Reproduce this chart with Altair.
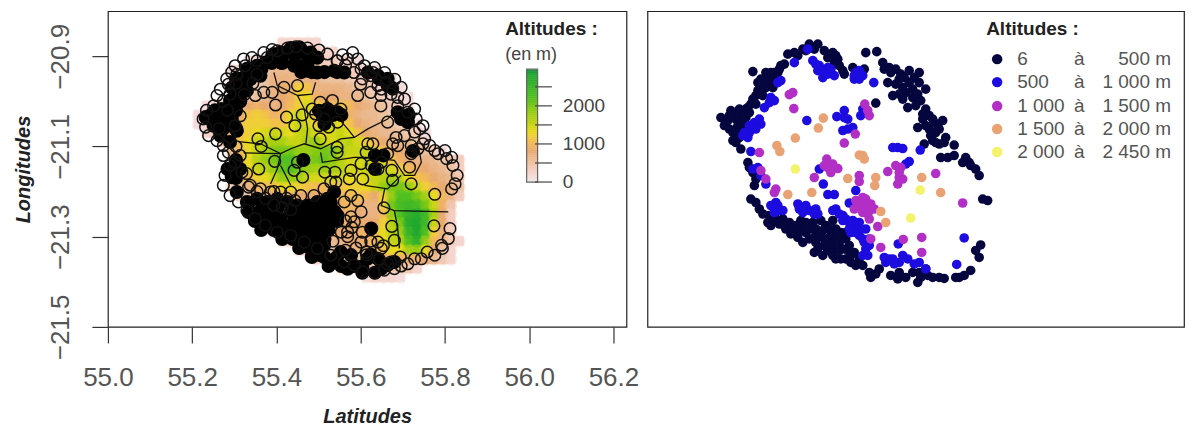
import altair as alt
import pandas as pd

# ---------- left map: altitude grid (hundreds of metres) ----------
GRID_LON0 = 55.20
GRID_LAT0 = -20.86
GRID_STEP = 0.02
MAP_LON_SHIFT = 0.004
ROW_FIRST_COL = [10, 9, 6, 4, 4, 4, 4, 1, 0, 0, 1, 3, 4, 4, 4, 4, 4, 5, 6, 6, 7, 9, 10, 12, 14, 17, 20]
ROW_VALUES = [
    [2, 2, 2, 2, 2],
    [2, 3, 3, 3, 3, 3, 2, 2],
    [1, 2, 3, 4, 5, 5, 5, 4, 4, 3, 3, 2, 2, 1],
    [1, 2, 2, 3, 5, 6, 6, 6, 6, 5, 5, 4, 4, 4, 3, 3, 2, 1],
    [1, 2, 3, 4, 5, 7, 7, 7, 7, 7, 7, 5, 5, 5, 4, 3, 3, 2, 2, 1],
    [1, 2, 3, 4, 5, 7, 8, 9, 12, 11, 7, 7, 7, 7, 6, 5, 4, 3, 2, 2, 1],
    [2, 3, 4, 5, 6, 7, 8, 9, 12, 13, 9, 8, 8, 7, 7, 6, 5, 4, 3, 2, 2, 1],
    [1, 2, 3, 4, 6, 8, 9, 8, 7, 8, 10, 12, 14, 12, 10, 10, 11, 10, 8, 7, 6, 5, 4, 2, 1],
    [1, 2, 3, 4, 5, 8, 11, 12, 11, 9, 10, 13, 15, 13, 11, 11, 13, 14, 9, 7, 6, 6, 5, 4, 2, 1],
    [1, 2, 3, 4, 7, 10, 12, 12, 12, 11, 11, 13, 15, 14, 12, 12, 14, 13, 11, 8, 7, 6, 6, 5, 3, 2, 1],
    [2, 3, 5, 8, 11, 12, 13, 14, 15, 14, 13, 15, 16, 14, 13, 14, 15, 13, 11, 8, 7, 6, 6, 5, 4, 3, 1],
    [4, 7, 11, 13, 15, 16, 17, 17, 15, 15, 17, 18, 15, 14, 15, 16, 14, 12, 10, 8, 7, 6, 6, 4, 2],
    [6, 10, 13, 15, 17, 19, 20, 20, 18, 18, 19, 20, 20, 17, 15, 15, 15, 13, 11, 9, 8, 7, 6, 5, 3, 1],
    [5, 9, 13, 16, 18, 20, 22, 22, 20, 19, 20, 21, 19, 16, 14, 14, 15, 14, 13, 11, 9, 8, 7, 7, 6, 5, 4, 3],
    [5, 9, 13, 15, 16, 18, 21, 22, 20, 18, 17, 18, 17, 16, 14, 14, 15, 15, 15, 14, 12, 10, 9, 8, 7, 6, 5, 3],
    [4, 7, 10, 12, 13, 15, 18, 18, 17, 15, 14, 14, 14, 14, 13, 13, 14, 15, 16, 17, 16, 13, 11, 10, 8, 7, 6, 4],
    [3, 5, 7, 9, 10, 11, 13, 13, 12, 11, 10, 10, 11, 11, 12, 12, 13, 15, 18, 20, 20, 18, 15, 12, 10, 8, 7, 5],
    [3, 5, 6, 7, 8, 9, 9, 8, 8, 8, 9, 9, 10, 10, 11, 10, 8, 12, 18, 22, 22, 20, 17, 13, 10, 7, 3],
    [3, 4, 5, 6, 6, 7, 7, 8, 8, 8, 9, 9, 10, 9, 7, 7, 12, 20, 23, 24, 23, 20, 15, 9, 4],
    [2, 3, 4, 5, 5, 6, 6, 7, 7, 8, 8, 9, 9, 8, 7, 7, 10, 18, 22, 26, 27, 24, 17, 8, 3],
    [2, 3, 4, 5, 5, 6, 6, 7, 7, 8, 8, 9, 8, 8, 8, 12, 16, 20, 27, 28, 24, 15, 8, 3],
    [2, 3, 4, 5, 6, 6, 7, 7, 8, 8, 9, 9, 10, 13, 16, 18, 25, 28, 22, 12, 7, 3],
    [2, 3, 4, 5, 5, 6, 6, 7, 8, 8, 9, 10, 13, 15, 16, 22, 26, 18, 10, 7, 4, 2],
    [2, 3, 4, 4, 5, 6, 7, 7, 8, 9, 11, 13, 13, 17, 18, 13, 8, 5, 2],
    [2, 3, 4, 4, 5, 5, 6, 7, 8, 9, 9, 9, 9, 8, 6, 4, 2],
    [2, 3, 3, 4, 4, 5, 5, 5, 4, 2],
    [1, 2, 2, 2, 1],
]

RIVERS = [
    [(55.318, -21.114), (55.406, -21.116), (55.43, -21.105), (55.462, -21.094), (55.501, -21.105),
     (55.549, -21.083), (55.581, -21.08), (55.613, -21.061), (55.66, -21.039), (55.676, -21.024)],
    [(55.306, -21.089), (55.358, -21.094), (55.406, -21.116)],
    [(55.39, -20.936), (55.398, -20.965), (55.446, -20.987), (55.462, -21.017), (55.47, -21.061), (55.466, -21.094)],
    [(55.406, -21.116), (55.398, -21.15), (55.382, -21.183)],
    [(55.406, -21.142), (55.43, -21.186)],
    [(55.501, -21.113), (55.505, -21.135), (55.581, -21.124), (55.613, -21.124), (55.676, -21.131),
     (55.7, -21.164), (55.724, -21.164), (55.74, -21.135), (55.736, -21.113)],
    [(55.605, -21.186), (55.66, -21.194), (55.692, -21.164)],
    [(55.653, -21.194), (55.645, -21.231), (55.676, -21.242), (55.804, -21.245)],
    [(55.676, -21.242), (55.684, -21.282), (55.688, -21.326)],
    [(55.489, -20.958), (55.481, -20.984), (55.446, -20.987)],
    [(55.517, -20.998), (55.541, -21.035), (55.565, -21.061), (55.581, -21.08)],
]

DENSE_STATIONS = [
    (55.33, -21.225), (55.525, -21.225), (55.50, -21.225),
    (55.33, -21.245), (55.355, -21.245), (55.46, -21.245), (55.485, -21.245), (55.51, -21.245), (55.535, -21.245),
    (55.345, -21.265), (55.37, -21.265), (55.395, -21.265), (55.44, -21.265), (55.465, -21.265), (55.49, -21.265), (55.515, -21.265), (55.54, -21.265),
    (55.36, -21.285), (55.39, -21.285), (55.42, -21.285), (55.445, -21.285), (55.47, -21.285), (55.495, -21.285), (55.52, -21.285),
    (55.41, -21.305), (55.435, -21.305), (55.46, -21.305), (55.485, -21.305), (55.51, -21.305),
    (55.45, -21.325), (55.475, -21.325), (55.50, -21.325),
    (55.48, -21.345), (55.51, -21.345), (55.54, -21.345),
    (55.52, -21.365), (55.55, -21.365), (55.58, -21.365), (55.60, -21.38), (55.63, -21.38),
    (55.43, -20.882), (55.45, -20.88), (55.39, -20.895), (55.415, -20.895), (55.44, -20.895), (55.465, -20.895),
    (55.385, -20.915), (55.41, -20.915), (55.44, -20.915), (55.47, -20.915),
    (55.455, -20.935), (55.48, -20.935), (55.51, -20.935), (55.54, -20.935),
    (55.33, -20.93), (55.36, -20.93), (55.30, -20.95), (55.325, -20.95), (55.29, -20.97), (55.32, -20.97),
    (55.25, -21.02), (55.275, -21.02), (55.30, -21.02), (55.24, -21.04), (55.265, -21.04), (55.29, -21.04),
    (55.29, -21.0), (55.31, -21.0), (55.27, -21.06), (55.30, -21.06),
    (55.30, -21.13), (55.28, -21.15), (55.31, -21.15), (55.30, -21.17),
    (55.505, -21.03), (55.53, -21.03), (55.55, -21.03), (55.51, -21.05),
    (55.69, -21.03), (55.71, -21.03), (55.46, -21.13), (55.63, -21.12), (55.65, -21.12), (55.63, -21.15),
    (55.64, -20.95), (55.66, -20.95), (55.67, -20.97), (55.62, -21.34), (55.60, -21.37), (55.72, -21.11),
    (55.326, -20.928), (55.35, -20.921), (55.37, -20.914), (55.31, -20.95), (55.334, -20.951), (55.358, -20.943),
    (55.302, -20.973), (55.326, -20.976), (55.286, -20.998), (55.31, -20.998), (55.266, -21.017), (55.243, -21.028),
    (55.228, -21.035), (55.247, -21.054), (55.27, -21.054), (55.263, -21.076), (55.286, -21.09), (55.302, -21.065),
    (55.386, -20.899), (55.406, -20.892), (55.43, -20.888), (55.454, -20.884), (55.477, -20.892), (55.493, -20.903),
    (55.406, -20.914), (55.438, -20.921), (55.47, -20.932), (55.493, -20.936), (55.533, -20.932), (55.557, -20.936),
    (55.692, -21.039), (55.708, -21.046), (55.684, -21.024),
    (55.326, -21.223), (55.35, -21.216), (55.374, -21.223), (55.398, -21.216), (55.422, -21.223), (55.446, -21.231),
    (55.47, -21.231), (55.493, -21.223), (55.517, -21.216), (55.533, -21.201), (55.342, -21.253), (55.374, -21.253),
    (55.406, -21.26), (55.438, -21.253), (55.406, -21.282), (55.438, -21.297), (55.47, -21.319), (55.501, -21.341),
    (55.533, -21.356), (55.565, -21.371), (55.597, -21.367), (55.637, -21.349), (55.66, -21.363), (55.621, -21.282),
    (55.541, -21.253),
    (55.366, -21.242), (55.398, -21.238), (55.43, -21.245), (55.382, -21.275), (55.43, -21.275), (55.454, -21.275),
    (55.454, -21.312), (55.485, -21.304), (55.509, -21.319), (55.549, -21.334), (55.573, -21.341), (55.612, -21.349),
    (55.645, -21.371), (55.676, -21.356), (55.302, -21.201), (55.29, -21.168),
    (55.613, -20.936), (55.637, -20.943), (55.66, -20.965), (55.517, -21.017), (55.541, -21.024), (55.497, -21.021),
]

RING_STATIONS = [
    (55.42, -21.035), (55.394, -21.072), (55.352, -21.083), (55.36, -21.10), (55.392, -21.133), (55.44, -21.054),
    (55.457, -21.03), (55.394, -21.008), (55.50, -21.083), (55.54, -21.102), (55.54, -21.113), (55.613, -21.094),
    (55.625, -21.094), (55.672, -21.094), (55.67, -21.153), (55.672, -21.175), (55.716, -21.183), (55.712, -21.146),
    (55.772, -21.206), (55.812, -21.194), (55.77, -21.276), (55.804, -21.304), (55.754, -21.334), (55.676, -21.308),
    (55.67, -21.277), (55.651, -21.236), (55.597, -21.138), (55.573, -21.153), (55.511, -21.157), (55.458, -21.168),
    (55.438, -21.153), (55.446, -21.135), (55.535, -21.157), (55.537, -21.179), (55.569, -21.172), (55.601, -21.172),
    (55.589, -21.22), (55.573, -21.256), (55.597, -21.245), (55.553, -20.897), (55.50, -21.002), (55.489, -21.028),
    (55.497, -21.054), (55.52, -21.057), (55.644, -21.01), (55.66, -21.046), (55.68, -21.08), (55.716, -21.116),
    (55.732, -21.105), (55.354, -21.15),
    (55.222, -21.039), (55.23, -21.02), (55.228, -21.057), (55.235, -21.076), (55.255, -21.087), (55.27, -21.098),
    (55.247, -21.01), (55.27, -21.0), (55.286, -20.984), (55.282, -20.962), (55.29, -20.935), (55.302, -20.94),
    (55.322, -20.921), (55.35, -20.91), (55.374, -20.903), (55.398, -20.888), (55.422, -20.882), (55.442, -20.879),
    (55.47, -20.882), (55.497, -20.886), (55.517, -20.895), (55.577, -20.892), (55.589, -20.906), (55.605, -20.921),
    (55.629, -20.925), (55.653, -20.936), (55.677, -20.951), (55.692, -20.969), (55.684, -20.991), (55.708, -21.024),
    (55.728, -21.039), (55.736, -21.061), (55.748, -21.083), (55.76, -21.098), (55.78, -21.116), (55.80, -21.127),
    (55.815, -21.142), (55.825, -21.164), (55.82, -21.183),
    (55.79, -21.326), (55.772, -21.341), (55.724, -21.349), (55.708, -21.36), (55.676, -21.371), (55.652, -21.374),
    (55.629, -21.38), (55.601, -21.378), (55.581, -21.363), (55.557, -21.356), (55.525, -21.341), (55.493, -21.326),
    (55.462, -21.312), (55.43, -21.297), (55.398, -21.29), (55.37, -21.275), (55.346, -21.26), (55.326, -21.242),
    (55.306, -21.223), (55.286, -21.209), (55.27, -21.186), (55.274, -21.164), (55.286, -21.142), (55.27, -21.12),
    (55.58, -20.936), (55.60, -20.95), (55.62, -20.943), (55.637, -20.965), (55.656, -20.958), (55.668, -20.984),
    (55.644, -20.987), (55.62, -20.98), (55.596, -20.962), (55.56, -20.92), (55.54, -20.91), (55.30, -20.96),
    (55.32, -20.985), (55.34, -20.96), (55.35, -20.94), (55.28, -21.02), (55.26, -21.06), (55.285, -21.08),
    (55.30, -21.10), (55.31, -21.12), (55.325, -21.16), (55.33, -21.19), (55.35, -21.20), (55.37, -21.215),
    (55.39, -21.23), (55.41, -21.235), (55.43, -21.24), (55.44, -21.22), (55.42, -21.215), (55.39, -21.20),
    (55.565, -21.30), (55.585, -21.325), (55.61, -21.34), (55.64, -21.35), (55.66, -21.36), (55.69, -21.345),
    (55.575, -21.28), (55.60, -21.29), (55.62, -21.31), (55.65, -21.32), (55.56, -21.33), (55.53, -21.31),
    (55.55, -21.29), (55.56, -21.265),
    (55.255, -20.987), (55.263, -20.973), (55.278, -20.95), (55.298, -20.921), (55.318, -20.906), (55.338, -20.903),
    (55.366, -20.892), (55.386, -20.885), (55.541, -20.91), (55.565, -20.906), (55.597, -20.928), (55.625, -20.936),
    (55.645, -20.973), (55.672, -20.973), (55.684, -21.01), (55.70, -20.995), (55.724, -21.017), (55.744, -21.054),
    (55.724, -21.068), (55.70, -21.076), (55.744, -21.094), (55.772, -21.109), (55.796, -21.109), (55.812, -21.124),
    (55.716, -21.098), (55.684, -21.098), (55.66, -21.116), (55.645, -21.135), (55.621, -21.142), (55.609, -21.113),
    (55.637, -21.15), (55.589, -20.987), (55.549, -21.017), (55.529, -20.998), (55.509, -21.039), (55.541, -21.046),
    (55.481, -21.017), (55.446, -20.965), (55.414, -20.969), (55.386, -20.98), (55.366, -20.98), (55.346, -20.987),
    (55.31, -21.032), (55.298, -21.054), (55.282, -21.113), (55.298, -21.135), (55.314, -21.157), (55.334, -21.186),
    (55.358, -21.194), (55.382, -21.201), (55.406, -21.201), (55.43, -21.201), (55.454, -21.209), (55.485, -21.209),
    (55.509, -21.194), (55.525, -21.179), (55.557, -21.223), (55.573, -21.209), (55.581, -21.267), (55.565, -21.29),
    (55.597, -21.312), (55.609, -21.334), (55.637, -21.312), (55.645, -21.326), (55.668, -21.356), (55.692, -21.365),
    (55.74, -21.349), (55.788, -21.319), (55.808, -21.282),
]

# ---------- right map: stations by altitude class ----------
CLASS_6_500 = [
    (55.227, -21.013), (55.234, -21.029), (55.247, -20.999), (55.257, -21.016), (55.264, -20.996), (55.271, -21.009),
    (55.251, -21.043), (55.267, -21.036), (55.257, -21.063), (55.267, -21.076), (55.284, -21.003), (55.297, -20.986),
    (55.277, -21.013), (55.274, -21.029), (55.311, -20.969), (55.301, -20.959), (55.317, -20.953), (55.307, -20.936),
    (55.327, -20.923), (55.344, -20.916), (55.324, -20.943), (55.291, -20.921), (55.337, -20.933), (55.354, -20.906),
    (55.361, -20.886), (55.381, -20.889), (55.391, -20.876), (55.404, -20.866), (55.421, -20.866), (55.434, -20.879),
    (55.451, -20.883), (55.461, -20.896), (55.471, -20.919), (55.454, -20.906), (55.441, -20.893), (55.517, -20.883),
    (55.539, -20.881), (55.491, -20.913), (55.514, -20.916), (55.551, -20.903), (55.564, -20.913), (55.577, -20.916),
    (55.587, -20.926), (55.604, -20.919), (55.624, -20.923), (55.584, -20.936), (55.561, -20.943), (55.577, -20.946),
    (55.604, -20.943), (55.624, -20.943), (55.637, -20.956), (55.597, -20.963), (55.571, -20.969), (55.591, -20.976),
    (55.611, -20.973), (55.601, -20.993), (55.627, -20.979), (55.637, -20.996), (55.644, -21.009), (55.631, -21.016),
    (55.654, -21.023), (55.671, -21.019), (55.661, -21.029), (55.621, -21.033), (55.644, -21.036), (55.657, -21.043),
    (55.677, -21.053), (55.651, -21.059), (55.634, -21.066), (55.664, -21.066), (55.694, -21.068), (55.667, -21.093),
    (55.681, -21.093), (55.694, -21.089), (55.717, -21.093), (55.711, -21.103), (55.727, -21.109), (55.737, -21.116),
    (55.744, -21.129), (55.537, -20.984), (55.751, -21.176), (55.761, -21.179), (55.747, -21.268), (55.737, -21.279),
    (55.744, -21.293), (55.727, -21.319), (55.714, -21.329), (55.697, -21.333), (55.674, -21.335), (55.651, -21.333),
    (55.637, -21.316), (55.621, -21.343), (55.611, -21.323), (55.581, -21.336), (55.567, -21.329), (55.537, -21.326),
    (55.524, -21.323), (55.281, -21.103), (55.291, -21.123), (55.294, -21.149), (55.287, -21.176), (55.304, -21.196),
    (55.321, -21.223), (55.334, -21.209), (55.344, -21.226), (55.357, -21.236), (55.371, -21.229), (55.381, -21.253),
    (55.397, -21.243), (55.414, -21.283), (55.417, -21.263), (55.434, -21.256), (55.451, -21.276), (55.464, -21.263),
    (55.477, -21.296), (55.497, -21.309), (55.471, -21.276), (55.437, -21.229), (55.457, -21.236), (55.397, -21.223),
    (55.377, -21.229), (55.417, -21.236), (55.477, -21.256), (55.494, -21.283), (55.451, -21.249), (55.431, -21.289),
    (55.457, -21.296), (55.481, -21.279), (55.511, -21.309), (55.351, -21.216), (55.391, -21.263),
    (55.241, -21.019), (55.254, -21.006), (55.244, -21.036), (55.261, -21.029), (55.277, -20.996), (55.287, -20.986),
    (55.264, -21.053), (55.251, -21.059), (55.297, -20.969), (55.311, -20.953), (55.327, -20.936), (55.341, -20.923),
    (55.317, -20.923), (55.301, -20.943), (55.331, -20.953), (55.347, -20.909), (55.374, -20.883), (55.397, -20.879),
    (55.414, -20.876), (55.447, -20.893), (55.464, -20.909), (55.457, -20.889), (55.474, -20.926),
    (55.567, -20.923), (55.554, -20.916), (55.594, -20.933), (55.614, -20.933), (55.591, -20.953), (55.611, -20.956),
    (55.621, -20.966), (55.584, -20.966), (55.617, -20.989), (55.631, -21.006), (55.651, -21.016), (55.637, -21.029),
    (55.664, -21.036), (55.647, -21.049), (55.674, -21.063), (55.657, -21.063), (55.724, -21.103),
    (55.297, -21.183), (55.311, -21.206), (55.324, -21.209), (55.337, -21.219), (55.364, -21.223), (55.387, -21.236),
    (55.407, -21.236), (55.404, -21.256), (55.424, -21.249), (55.444, -21.236), (55.447, -21.263), (55.421, -21.276),
    (55.441, -21.279), (55.464, -21.279), (55.467, -21.296), (55.487, -21.303), (55.477, -21.243), (55.467, -21.243),
    (55.427, -21.219), (55.451, -21.219), (55.411, -21.223), (55.387, -21.219), (55.354, -21.229), (55.374, -21.243),
    (55.527, -21.333), (55.544, -21.316), (55.584, -21.323), (55.597, -21.333), (55.627, -21.333), (55.641, -21.329),
    (55.624, -21.323), (55.664, -21.333), (55.704, -21.333), (55.297, -21.136), (55.284, -21.113),
    (55.327, -21.229), (55.367, -21.246), (55.384, -21.239), (55.414, -21.253), (55.431, -21.239), (55.444, -21.253),
    (55.434, -21.269), (55.454, -21.263), (55.464, -21.249), (55.484, -21.269), (55.487, -21.289), (55.451, -21.289),
    (55.504, -21.296), (55.397, -21.233), (55.257, -21.036), (55.244, -21.009), (55.271, -21.023), (55.261, -21.003),
    (55.317, -20.936), (55.334, -20.923), (55.307, -20.963), (55.291, -20.976), (55.281, -20.993),
]
CLASS_500_1000 = [
    (55.424, -20.909), (55.434, -20.919), (55.417, -20.906), (55.431, -20.933), (55.441, -20.913), (55.454, -20.929),
    (55.497, -20.923), (55.511, -20.929), (55.494, -20.936), (55.533, -20.943), (55.401, -20.876), (55.374, -20.903),
    (55.341, -20.943), (55.324, -20.983), (55.314, -20.993), (55.334, -20.979), (55.294, -21.023), (55.307, -21.026),
    (55.284, -21.043), (55.297, -21.036), (55.271, -21.049), (55.281, -21.053), (55.287, -21.081), (55.474, -20.999),
    (55.481, -21.016), (55.459, -21.011), (55.507, -21.009), (55.511, -20.996), (55.399, -21.019), (55.471, -21.039),
    (55.491, -21.033), (55.581, -21.073), (55.591, -21.075), (55.571, -21.073), (55.626, -21.078), (55.604, -21.101),
    (55.597, -21.106), (55.424, -21.116), (55.432, -21.146), (55.441, -21.167), (55.454, -21.167), (55.497, -21.159),
    (55.484, -21.184), (55.457, -21.196), (55.337, -21.183), (55.327, -21.189), (55.344, -21.199), (55.334, -21.203),
    (55.381, -21.186), (55.384, -21.196), (55.404, -21.199), (55.417, -21.196), (55.421, -21.206), (55.471, -21.209),
    (55.484, -21.223), (55.497, -21.229), (55.487, -21.243), (55.504, -21.249), (55.514, -21.263), (55.517, -21.276),
    (55.511, -21.289), (55.501, -21.236), (55.477, -21.216), (55.524, -21.269), (55.557, -21.303), (55.571, -21.296),
    (55.591, -21.289), (55.584, -21.303), (55.614, -21.306), (55.637, -21.316), (55.582, -21.266), (55.714, -21.254),
    (55.699, -21.307), (55.291, -21.116), (55.307, -21.129), (55.317, -21.146), (55.301, -21.113),
    (55.411, -20.899), (55.421, -20.919), (55.441, -20.926), (55.447, -20.916), (55.504, -20.919), (55.284, -21.029),
    (55.304, -21.016), (55.274, -21.043), (55.347, -20.939), (55.327, -20.973), (55.474, -21.013), (55.481, -21.036),
    (55.517, -21.236), (55.511, -21.256), (55.497, -21.243), (55.524, -21.256), (55.521, -21.289), (55.491, -21.219),
    (55.484, -21.236), (55.504, -21.223), (55.451, -21.199), (55.471, -21.219), (55.464, -21.206), (55.341, -21.189),
    (55.351, -21.199), (55.397, -21.189), (55.414, -21.206), (55.391, -21.203), (55.564, -21.296), (55.554, -21.293),
    (55.601, -21.296), (55.574, -21.306), (55.624, -21.303), (55.494, -20.929), (55.504, -20.936),
]
CLASS_1000_1500 = [
    (55.364, -20.967), (55.373, -20.995), (55.524, -21.009), (55.515, -20.986), (55.496, -21.046), (55.474, -21.064),
    (55.304, -21.083), (55.317, -21.136), (55.334, -21.163), (55.439, -21.096), (55.441, -21.113), (55.461, -21.115),
    (55.447, -21.123), (55.414, -21.133), (55.504, -21.129), (55.504, -21.141), (55.511, -21.173), (55.501, -21.189),
    (55.517, -21.189), (55.527, -21.186), (55.511, -21.203), (55.524, -21.216), (55.494, -21.196), (55.541, -21.231),
    (55.561, -21.121), (55.577, -21.109), (55.584, -21.123), (55.591, -21.136), (55.581, -21.146), (55.657, -21.125),
    (55.711, -21.184), (55.547, -21.273), (55.592, -21.257), (55.629, -21.253), (55.629, -21.283), (55.527, -21.256),
    (55.507, -21.183), (55.517, -21.176), (55.524, -21.199), (55.497, -21.179), (55.534, -21.196), (55.521, -21.206),
    (55.451, -21.106), (55.434, -21.109), (55.587, -21.113), (55.584, -21.133), (55.521, -20.999), (55.371, -20.963),
    (55.307, -21.119), (55.337, -21.156),
]
CLASS_1500_2000 = [
    (55.432, -21.014), (55.422, -21.034), (55.376, -21.054), (55.339, -21.069), (55.345, -21.081), (55.511, -21.089),
    (55.504, -21.088), (55.514, -21.096), (55.481, -21.135), (55.537, -21.133), (55.535, -21.149), (55.629, -21.133),
    (55.667, -21.163), (55.361, -21.167), (55.409, -21.163), (55.547, -21.201), (55.557, -21.223),
]
CLASS_2000_2450 = [(55.376, -21.116), (55.626, -21.158), (55.607, -21.214)]

CLASS_NAMES = ["c1", "c2", "c3", "c4", "c5"]
CLASS_COLORS = ["#06063f", "#1c0ce0", "#b22fc6", "#e9a274", "#f3f36c"]
LEGEND_FROM = ["6", "500", "1 000", "1 500", "2 000"]
LEGEND_TO = ["500 m", "1 000 m", "1 500 m", "2 000 m", "2 450 m"]
LEGEND_LATS = [-20.896, -20.942, -20.99, -21.036, -21.082]

ALT_STOPS = [0, 500, 800, 1300, 1700, 2200, 2800, 2965]
ALT_COLORS = ["#f1e6e6", "#ecc29f", "#e9ab72", "#e8da20", "#a8d014", "#50c020", "#20a830", "#0e8f38"]
BAR_LEVELS = list(range(0, 2950, 50))
BAR_TICKS = [0, 500, 1000, 1500, 2000, 2500]
BAR_LABELS = [0, 1000, 2000]

# ---------- frames ----------
cells = []
for r, (first, vals) in enumerate(zip(ROW_FIRST_COL, ROW_VALUES)):
    for i, v in enumerate(vals):
        lon0 = round(GRID_LON0 + MAP_LON_SHIFT + (first + i) * GRID_STEP, 3)
        lat0 = round(GRID_LAT0 - r * GRID_STEP, 3)
        cells.append({"lon": lon0, "lon2": round(lon0 + GRID_STEP, 3), "lat": lat0,
                      "lat2": round(lat0 - GRID_STEP, 3),
                      "clon": round(lon0 + GRID_STEP / 2, 3), "clat": round(lat0 - GRID_STEP / 2, 3),
                      "alt": v * 100})
cells = pd.DataFrame(cells)
rivers = pd.DataFrame([{"id": k, "o": j, "lon": p[0] + MAP_LON_SHIFT, "lat": p[1]}
                       for k, line in enumerate(RIVERS) for j, p in enumerate(line)])
rings = pd.DataFrame(RING_STATIONS, columns=["lon", "lat"])
rings["lon"] += MAP_LON_SHIFT
dense = pd.DataFrame(DENSE_STATIONS, columns=["lon", "lat"])
dense["lon"] += MAP_LON_SHIFT
bars = pd.DataFrame({"a": BAR_LEVELS, "a2": [a + 50 for a in BAR_LEVELS]})
bar_ticks = pd.DataFrame({"a": BAR_TICKS})
bar_labels = pd.DataFrame({"a": BAR_LABELS, "t": [str(a) for a in BAR_LABELS]})

stations = pd.concat([
    pd.DataFrame(lst, columns=["lon", "lat"]).assign(c=name)
    for lst, name in zip([CLASS_6_500, CLASS_500_1000, CLASS_1000_1500, CLASS_1500_2000, CLASS_2000_2450], CLASS_NAMES)
], ignore_index=True)
legend_rows = pd.DataFrame({"c": CLASS_NAMES, "lat": LEGEND_LATS, "f": LEGEND_FROM, "t": LEGEND_TO, "a": ["à"] * 5})

# ---------- scales ----------
FONT = "Liberation Sans"
xs = alt.Scale(domain=[55.0, 56.231], nice=False, zero=False)
ys = alt.Scale(domain=[-21.5, -20.80], nice=False, zero=False)
alt_scale = alt.Scale(domain=ALT_STOPS, range=ALT_COLORS)
bar_y = alt.Scale(domain=[-3805, 4487], nice=False, zero=False)

x_axis = alt.Axis(values=[55.0, 55.2, 55.4, 55.6, 55.8, 56.0, 56.2], format=".1f", title="Latitudes",
                  grid=False, tickSize=16, tickColor="#333", tickWidth=1.2, domain=False,
                  labelFontSize=26, labelColor="#555", labelPadding=22, labelFont=FONT, labelFlush=False,
                  labelOverlap=False,
                  titleFont=FONT, titleFontSize=20, titleFontStyle="italic", titleFontWeight="bold",
                  titleColor="#222", titlePadding=16)
y_axis = alt.Axis(values=[-20.9, -21.1, -21.3, -21.5], format=".1f", title="Longitudes",
                  grid=False, tickSize=16, tickColor="#333", tickWidth=1.2, domain=False, labelAngle=270,
                  labelAlign="center", labelBaseline="bottom", labelOverlap=False,
                  labelFontSize=26, labelColor="#555", labelPadding=18, labelFont=FONT,
                  titleFont=FONT, titleFontSize=20, titleFontStyle="italic", titleFontWeight="bold",
                  titleColor="#222", titlePadding=14)

X = alt.X("lon:Q", scale=xs, axis=x_axis)
Y = alt.Y("lat:Q", scale=ys, axis=None)

heat = alt.Chart(cells).mark_rect(strokeWidth=0.6).encode(
    x=X,
    x2="lon2:Q",
    y=alt.Y("lat:Q", scale=ys, axis=y_axis),
    y2="lat2:Q",
    color=alt.Color("alt:Q", scale=alt_scale, legend=None),
    stroke=alt.Stroke("alt:Q", scale=alt_scale, legend=None),
)
soften = alt.Chart(cells).mark_circle(size=170, opacity=0.4).encode(
    x=alt.X("clon:Q", scale=xs, axis=x_axis),
    y=alt.Y("clat:Q", scale=ys, axis=None),
    color=alt.Color("alt:Q", scale=alt_scale, legend=None),
)
river_layer = alt.Chart(rivers).mark_line(color="#111", strokeWidth=1.3).encode(
    x=X, y=Y, detail="id:N", order="o:Q")
dense_layer = alt.Chart(dense).mark_circle(color="#000", size=200, opacity=1).encode(x=X, y=Y)
ring_layer = alt.Chart(rings).mark_point(filled=False, color="#111", size=135, strokeWidth=1.5, opacity=1).encode(x=X, y=Y)


def text_at(lon, lat, txt, size, weight="normal", color="#444", align="left"):
    return alt.Chart(pd.DataFrame({"lon": [lon], "lat": [lat], "t": [txt]})).mark_text(
        font=FONT, fontSize=size, fontWeight=weight, color=color, align=align, baseline="middle"
    ).encode(x=X, y=Y, text="t:N")


BY = alt.Y("a:Q", scale=bar_y, axis=None)
BX = alt.X("b0:Q", scale=xs, axis=x_axis)
bar_layer = alt.Chart(bars).mark_rect(strokeWidth=0.5).encode(
    x=BX, x2="b1:Q", y=BY, y2="a2:Q",
    color=alt.Color("a:Q", scale=alt_scale, legend=None),
    stroke=alt.Stroke("a:Q", scale=alt_scale, legend=None),
).transform_calculate(b0="55.994", b1="56.02")
tick_layer = alt.Chart(bar_ticks).mark_rule(color="#444", strokeWidth=1.2).encode(
    x=BX, x2="b1:Q", y=BY,
).transform_calculate(b0="56.014", b1="56.054")
bar_frame = alt.Chart(pd.DataFrame({"a": [0], "a2": [2965]})).mark_rect(
    fillOpacity=0, stroke="#666", strokeWidth=1.2
).encode(x=BX, x2="b1:Q", y=BY, y2="a2:Q").transform_calculate(b0="55.994", b1="56.02")
label_layer = alt.Chart(bar_labels).mark_text(
    font=FONT, fontSize=19, color="#444", align="left", baseline="middle"
).encode(x=BX, y=BY, text="t:N").transform_calculate(b0="56.08")

left = alt.layer(
    heat, soften, river_layer, dense_layer, ring_layer,
    text_at(55.943, -20.84, "Altitudes :", 19, "bold", "#222"),
    text_at(55.943, -20.898, "(en m)", 18, "normal", "#444"),
    bar_layer, bar_frame, tick_layer, label_layer,
).resolve_scale(y="independent").properties(width=519, height=316)

# ---------- right ----------
xr = alt.Scale(domain=[55.08, 56.154], nice=False, zero=False)
yr = alt.Scale(domain=[-21.432, -20.80], nice=False, zero=False)
XR = alt.X("lon:Q", scale=xr, axis=None)
YR = alt.Y("lat:Q", scale=yr, axis=None)
class_color = alt.Color("c:N", scale=alt.Scale(domain=CLASS_NAMES, range=CLASS_COLORS), legend=None)

pts = alt.Chart(stations).mark_circle(size=92, opacity=1).encode(x=XR, y=YR, color=class_color)
leg_pts = alt.Chart(legend_rows).transform_calculate(lon="55.78").mark_circle(size=110, opacity=1).encode(
    x=XR, y=YR, color=class_color)


def legend_col(field, lon, align):
    return alt.Chart(legend_rows).transform_calculate(lon=str(lon)).mark_text(
        font=FONT, fontSize=19, color="#555", align=align, baseline="middle"
    ).encode(x=XR, y=YR, text=f"{field}:N")


title_r = alt.Chart(pd.DataFrame({"lon": [55.758], "lat": [-20.836], "t": ["Altitudes :"]})).mark_text(
    font=FONT, fontSize=19, fontWeight="bold", color="#222", align="left", baseline="middle"
).encode(x=XR, y=YR, text="t:N")

right = alt.layer(
    pts, leg_pts, legend_col("f", 55.82, "left"), legend_col("a", 55.934, "left"),
    legend_col("t", 56.128, "right"), title_r,
).properties(width=537, height=316)

chart = alt.hconcat(left, right, spacing=21, bounds="flush").properties(
    padding={"left": 5, "top": 2, "right": 0, "bottom": 0}, background="white"
).configure_view(stroke="#222", strokeWidth=1.2)

chart.save("out.html", embed_options={"renderer": "svg", "actions": False})
